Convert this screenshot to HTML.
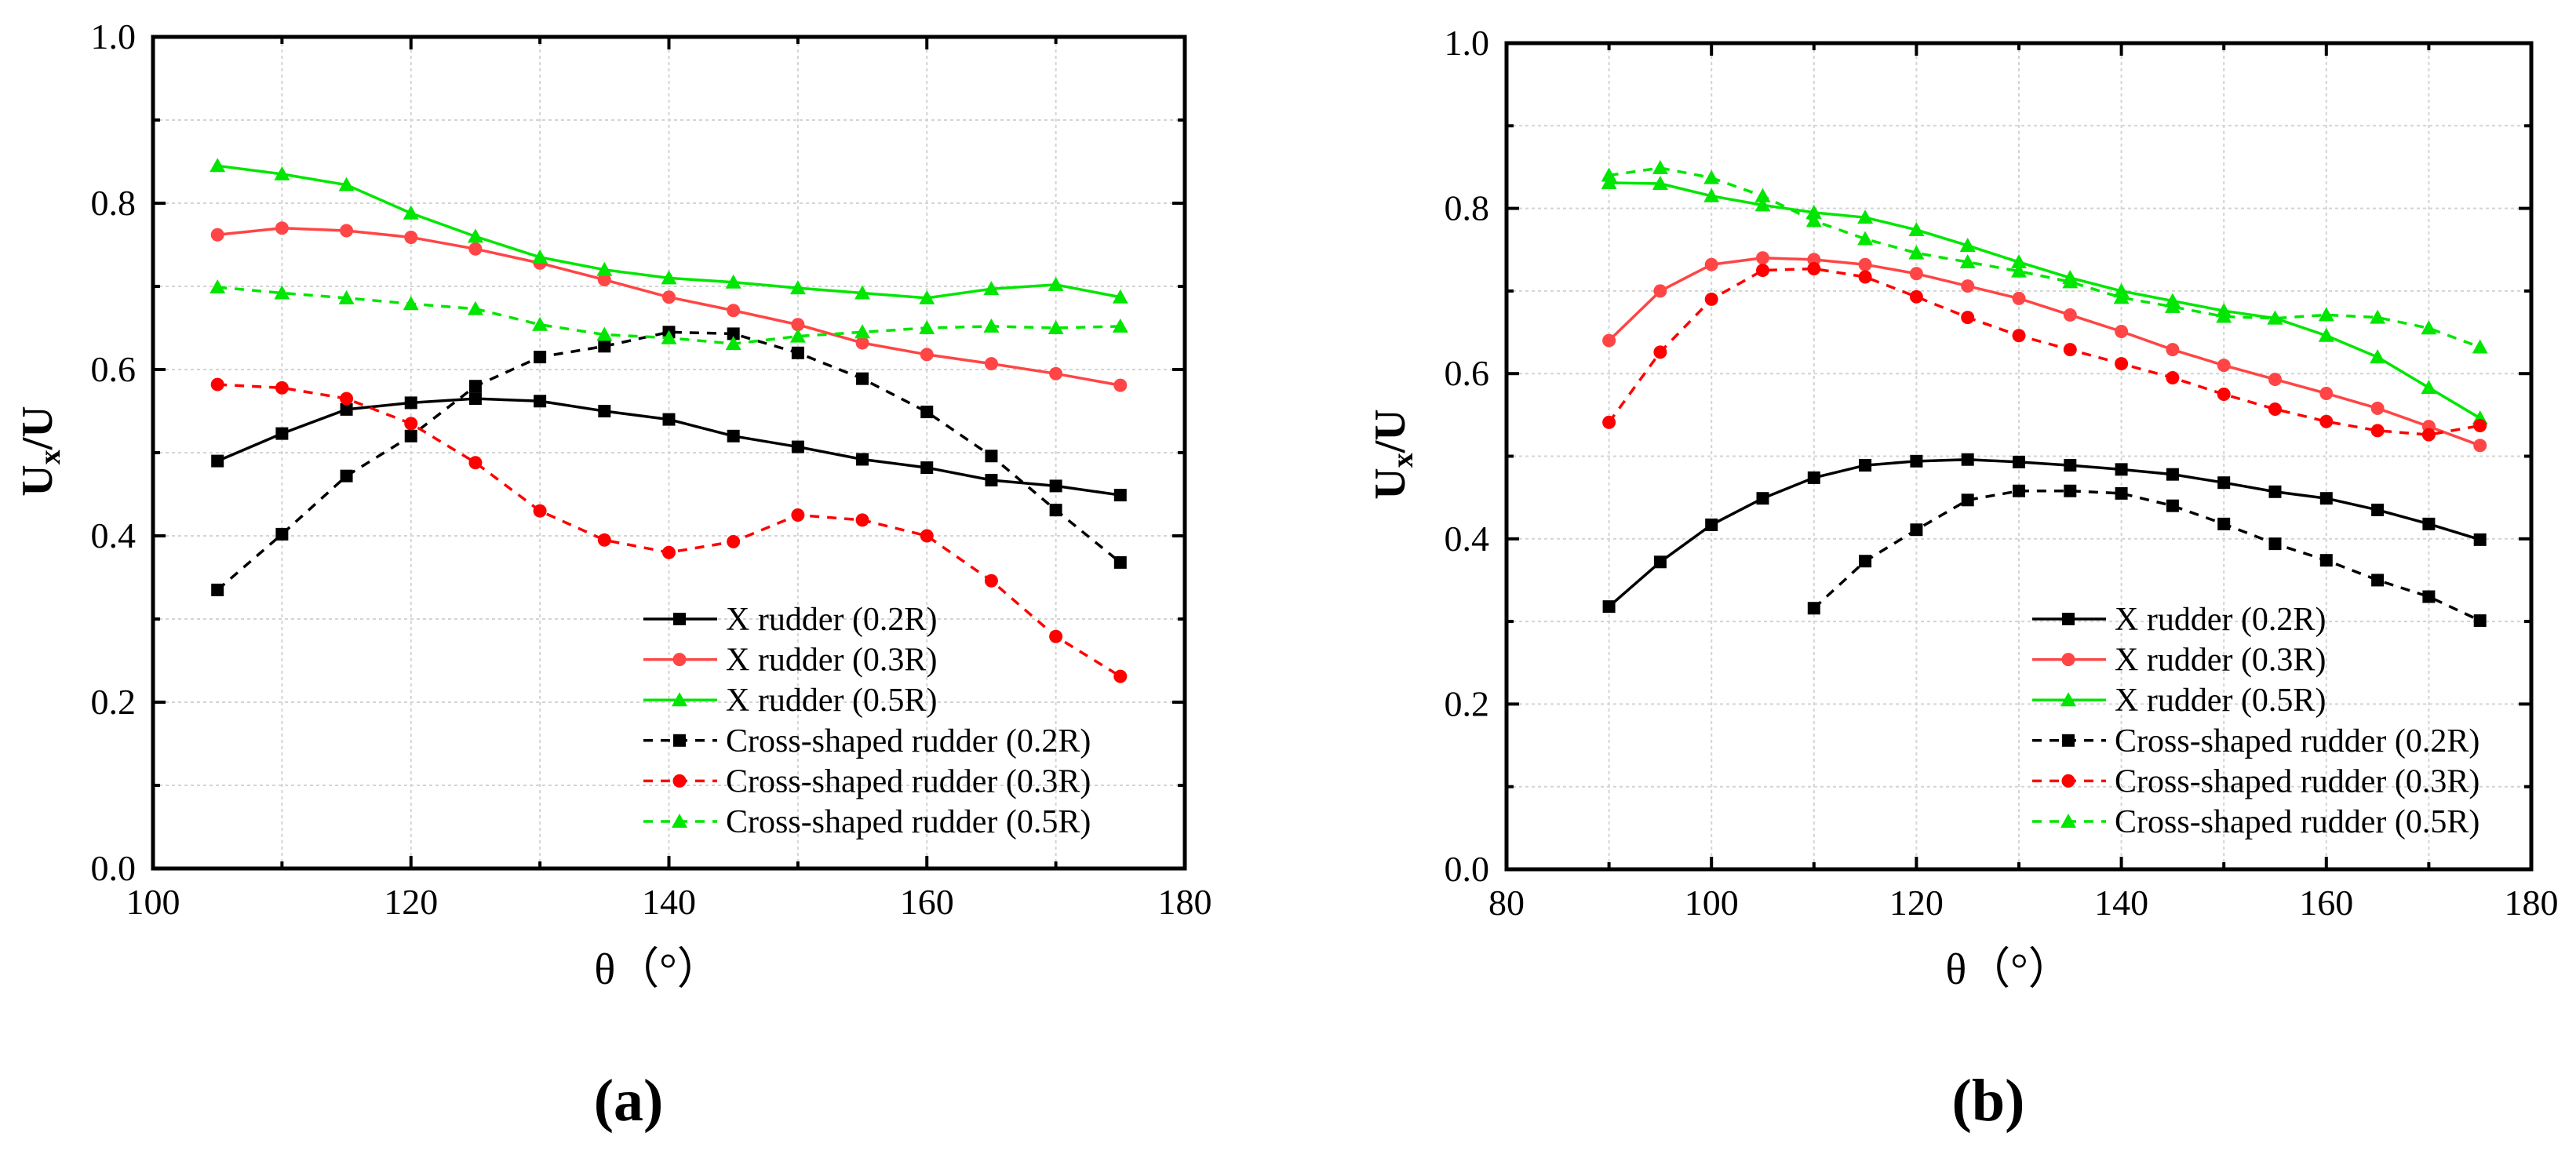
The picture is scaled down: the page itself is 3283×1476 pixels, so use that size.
<!DOCTYPE html>
<html><head><meta charset="utf-8"><style>
body{margin:0;background:#fff}
svg{display:block;font-family:"Liberation Serif",serif}
</style></head><body>
<svg id="fig" width="3283" height="1476" viewBox="0 0 3283 1476" xmlns="http://www.w3.org/2000/svg"></svg>
<script>
const xA = [105,110,115,120,125,130,135,140,145,150,155,160,165,170,175];
const aX02 = [.49,.523,.552,.56,.565,.562,.55,.54,.52,.507,.492,.482,.467,.46,.449];
const aX03 = [.762,.77,.767,.759,.745,.728,.708,.687,.671,.654,.632,.618,.607,.595,.581];
const aX05 = [.845,.835,.822,.788,.76,.735,.72,.71,.705,.698,.692,.686,.697,.702,.687];
const aC02 = [.335,.402,.472,.52,.58,.615,.628,.645,.643,.62,.589,.549,.496,.431,.368];
const aC03 = [.582,.578,.565,.535,.488,.43,.395,.38,.393,.425,.419,.4,.346,.279,.231];
const aC05 = [.699,.692,.686,.679,.673,.654,.642,.638,.631,.64,.645,.65,.652,.65,.652];
const xB = [90,95,100,105,110,115,120,125,130,135,140,145,150,155,160,165,170,175];
const xBC02 = [110,115,120,125,130,135,140,145,150,155,160,165,170,175];
const bX02 = [.318,.372,.417,.449,.474,.489,.494,.496,.493,.489,.484,.478,.468,.457,.449,.435,.418,.399];
const bX03 = [.64,.7,.732,.74,.738,.732,.721,.706,.691,.671,.651,.629,.61,.593,.576,.558,.536,.513];
const bX05 = [.831,.83,.815,.804,.795,.789,.774,.755,.735,.716,.7,.688,.676,.667,.646,.62,.583,.546];
const bC02 = [.316,.373,.411,.447,.458,.458,.455,.44,.418,.394,.374,.35,.33,.301];
const bC03 = [.541,.626,.69,.725,.727,.717,.693,.668,.646,.629,.612,.595,.575,.557,.542,.531,.526,.537];
const bC05 = [.84,.849,.837,.815,.785,.763,.746,.735,.724,.711,.692,.681,.669,.667,.671,.668,.655,.632];
const yTicks = ["0.0","0.2","0.4","0.6","0.8","1.0"];
const legendLabels = ["X rudder (0.2R)","X rudder (0.3R)","X rudder (0.5R)","Cross-shaped rudder (0.2R)","Cross-shaped rudder (0.3R)","Cross-shaped rudder (0.5R)"];

const NS="http://www.w3.org/2000/svg";
const svg=document.getElementById('fig');
function mk(tag,attrs,parent){const e=document.createElementNS(NS,tag);for(const k in attrs)e.setAttribute(k,attrs[k]);(parent||svg).appendChild(e);return e;}

function marker(g,type,x,y,color){
  let m;
  if(type==='s') m=mk('rect',{x:x-8,y:y-8,width:16,height:16,fill:color},g);
  else if(type==='c') m=mk('circle',{cx:x,cy:y,r:8.5,fill:color},g);
  else m=mk('polygon',{points:`${x},${y-10} ${x-10},${y+8} ${x+10},${y+8}`,fill:color},g);
  return m;
}

function panel(cfg){
  const {L,R,T,B,x0,x1,name}=cfg;
  const g=mk('g',{});
  
  
  const sx=v=>L+(v-x0)/(x1-x0)*(R-L);
  const sy=v=>B-v*(B-T);
  for(let v=x0+10;v<x1;v+=10){const l=mk('line',{x1:sx(v),x2:sx(v),y1:T,y2:B,stroke:'#d4d4d4','stroke-width':2,'stroke-dasharray':'4 4'},g);}
  for(let i=1;i<10;i++){const l=mk('line',{x1:L,x2:R,y1:sy(i/10),y2:sy(i/10),stroke:'#d4d4d4','stroke-width':2,'stroke-dasharray':'4 4'},g);}
  for(let v=x0;v<=x1;v+=10){const major=((v-x0)%20)===0;const len=major?16:9;
    mk('line',{x1:sx(v),x2:sx(v),y1:B,y2:B-len,stroke:'#000','stroke-width':4},g);
    mk('line',{x1:sx(v),x2:sx(v),y1:T,y2:T+len,stroke:'#000','stroke-width':4},g);
    if(major){const t=mk('text',{x:sx(v),y:B+58,'font-size':46,'text-anchor':'middle'},g);t.textContent=String(v);}
  }
  for(let i=0;i<=10;i++){const major=i%2===0;const len=major?16:9;const y=sy(i/10);
    mk('line',{x1:L,x2:L+len,y1:y,y2:y,stroke:'#000','stroke-width':4},g);
    mk('line',{x1:R,x2:R-len,y1:y,y2:y,stroke:'#000','stroke-width':4},g);
    if(major){const t=mk('text',{x:L-22,y:y+15,'font-size':46,'text-anchor':'end'},g);t.textContent=yTicks[i/2];}
  }
  const fr=mk('rect',{x:L,y:T,width:R-L,height:B-T,fill:'none',stroke:'#000','stroke-width':5},g);
  
  const styles=[['#000','s',''],['#ff4545','c',''],['#00e600','t',''],['#000','s','12 10'],['#ff0000','c','12 10'],['#00e600','t','12 10']];
  const names=['series-x-0.2r','series-x-0.3r','series-x-0.5r','series-cross-0.2r','series-cross-0.3r','series-cross-0.5r'];
  cfg.series.forEach((s,k)=>{
    const [col,mt,da]=styles[k];
    const sg=mk('g',{},g);
    
    
    const pts=s.x.map((xv,i)=>`${sx(xv)},${sy(s.y[i])}`).join(' ');
    mk('polyline',{points:pts,fill:'none',stroke:col,'stroke-width':3.5,'stroke-dasharray':da},sg);
    s.x.forEach((xv,i)=>{const m=marker(sg,mt,sx(xv),sy(s.y[i]),col);});
  });
  const lg=mk('g',{},g);
  
  
  legendLabels.forEach((lab,k)=>{
    const [col,mt,da]=styles[k];const y=cfg.legY+k*51.6;
    const eg=mk('g',{},lg);
    
    
    mk('line',{x1:cfg.legX,x2:cfg.legX+94,y1:y,y2:y,stroke:col,'stroke-width':3.5,'stroke-dasharray':da?'12 10':''},eg);
    marker(eg,mt,cfg.legX+46,y,col);
    const t=mk('text',{x:cfg.legX+105,y:y+14,'font-size':42},eg);t.textContent=lab;
  });
  const xt=mk('text',{x:cfg.xtX,y:1254,'font-size':56,'text-anchor':'middle'},g);
  xt.textContent='θ（°）';
  
  const yt=mk('text',{x:0,y:0,'font-size':56,'font-weight':'bold','text-anchor':'middle',transform:`translate(${cfg.ytX},${cfg.ytY}) rotate(-90)`},g);
  yt.innerHTML='U<tspan font-size="38" dy="10">x</tspan><tspan dy="-10">/U</tspan>';
  
  const cap=mk('text',{x:cfg.capX,y:1428,'font-size':76,'font-weight':'bold','text-anchor':'middle'},g);
  cap.textContent=cfg.cap;
  
}

panel({name:'panel-a',L:195,R:1510,T:47,B:1107,x0:100,x1:180,legX:820,legY:789,xtX:838,ytX:66,ytY:575,capX:801,cap:'(a)',
  series:[{x:xA,y:aX02},{x:xA,y:aX03},{x:xA,y:aX05},{x:xA,y:aC02},{x:xA,y:aC03},{x:xA,y:aC05}]});
panel({name:'panel-b',L:1920,R:3226,T:55,B:1108,x0:80,x1:180,legX:2590,legY:789,xtX:2560,ytX:1790,ytY:579,capX:2534,cap:'(b)',
  series:[{x:xB,y:bX02},{x:xB,y:bX03},{x:xB,y:bX05},{x:xBC02,y:bC02},{x:xB,y:bC03},{x:xB,y:bC05}]});
</script>
</body></html>
